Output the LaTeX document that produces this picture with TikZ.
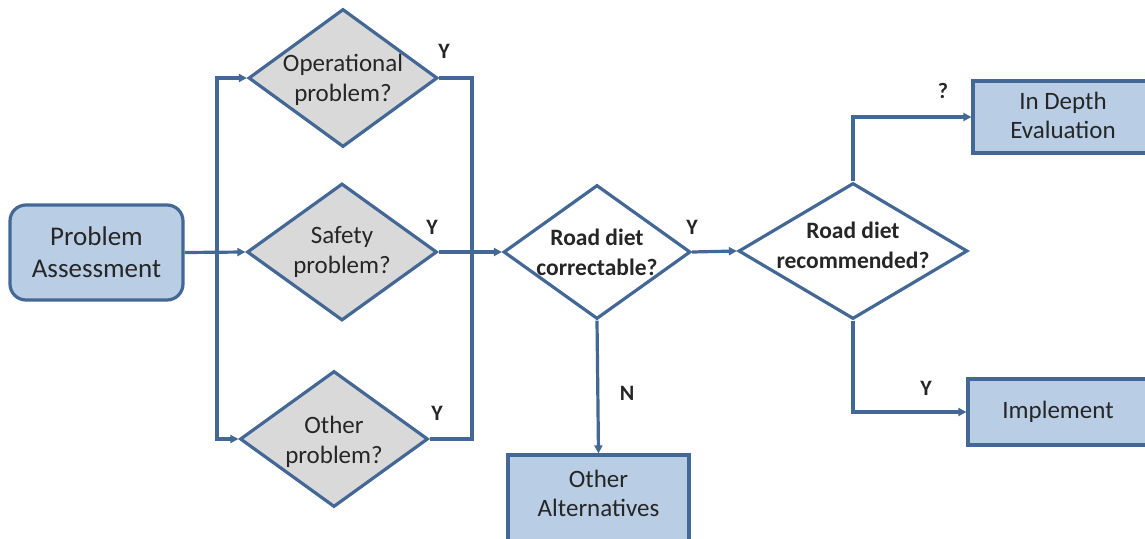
\documentclass[tikz,border=0pt]{standalone}
\usepackage{fontspec}
\setmainfont{Carlito}
\usetikzlibrary{shapes.geometric,arrows.meta}
\definecolor{lnblue}{RGB}{68,104,150}
\definecolor{boxblue}{RGB}{185,205,229}
\definecolor{dgray}{RGB}{217,217,217}
\definecolor{txt}{RGB}{38,38,38}
\tikzset{
  line/.style={draw=lnblue, line width=3.2pt},
  arr/.style={line, -{Triangle[length=8pt,width=8pt]}},
  dia/.style={shape=diamond, draw=lnblue, line width=3.2pt, inner sep=0pt},
  qdia/.style={dia, fill=dgray},
  wdia/.style={dia, fill=white},
  dtext/.style={font=\fontsize{25}{30}\selectfont, text=txt, align=center},
  btext/.style={font=\bfseries\fontsize{23.5}{30}\selectfont, text=txt, align=center},
  rbox/.style={draw=lnblue, line width=3.2pt, fill=boxblue, text=txt, align=center, inner sep=0pt, font=\fontsize{25}{29}\selectfont},
  yl/.style={font=\bfseries\fontsize{22}{22}\selectfont, text=txt}
}
\begin{document}
\begin{tikzpicture}[x=1pt,y=-1pt]
\useasboundingbox (0,0) rectangle (1145,538);
% nodes
\node[rbox, rounded corners=16pt, minimum width=173pt, minimum height=95pt, font=\fontsize{27}{32}\selectfont] (pa) at (96.5,252.5) {Problem\\Assessment};
\node[qdia, minimum width=189pt, minimum height=138pt, label={[dtext,yshift=-2pt]center:Operational\\problem?}] (op) at (343,78) {};
\node[qdia, minimum width=190pt, minimum height=137pt, label={[dtext]center:Safety\\problem?}] (sa) at (342,252) {};
\node[qdia, minimum width=188pt, minimum height=136pt, label={[dtext,yshift=-3pt]center:Other\\problem?}] (ot) at (334,439) {};
\node[wdia, minimum width=187pt, minimum height=134pt, label={[btext]center:Road diet\\correctable?}] (rc) at (597,252) {};
\node[wdia, minimum width=229pt, minimum height=136pt, label={[btext,yshift=6pt]center:Road diet\\recommended?}] (rr) at (853,251) {};
\node[rbox, minimum width=180pt, minimum height=72pt, label={[rbox,draw=none,fill=none,yshift=2pt]center:In Depth\\Evaluation}] (ide) at (1063,117) {};
\node[rbox, minimum width=180pt, minimum height=66pt] (imp) at (1058,412) {Implement};
\node[rbox, minimum width=181pt, minimum height=88pt, label={[rbox,draw=none,fill=none,yshift=6pt]center:Other\\Alternatives}] (oa) at (598.5,499) {};
\coordinate (lx) at (217,252);
\coordinate (rx) at (472,252);
% connectors
\draw[arr] (pa.east) -- (sa.west);
\draw[arr] (lx) |- (op.west);
\draw[arr] (lx) |- (ot.west);
\draw[line] (op.east) -| (rx);
\draw[line] (ot.east) -| (rx);
\draw[arr] (sa.east) -- (rc.west);
\draw[arr] (rc.east) -- (rr.west);
\draw[arr] (rc.south) -- (oa.north);
\draw[arr] (rr.north) |- (ide.west);
\draw[arr] (rr.south) |- (imp.west);
% labels
\node[yl] (y1) at (444,51) {Y};
\node[yl] (y2) at (432,227) {Y};
\node[yl] (y3) at (437,413) {Y};
\node[yl] (y4) at (692,227) {Y};
\node[yl] (q1) at (943,91) {?};
\node[yl] (y5) at (926,388) {Y};
\node[yl] (n1) at (627,393) {N};
\end{tikzpicture}
\end{document}
